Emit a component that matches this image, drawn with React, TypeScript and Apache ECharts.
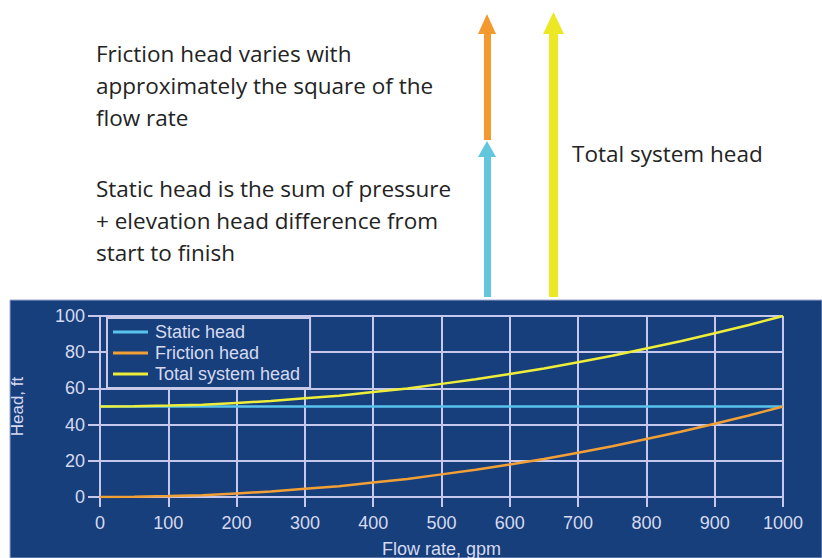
import React, { useEffect, useRef } from "react";
import * as echarts from "echarts";

const flowRates = [0, 50, 100, 150, 200, 250, 300, 350, 400, 450, 500, 550, 600, 650, 700, 750, 800, 850, 900, 950, 1000];
const staticHead = [50, 50, 50, 50, 50, 50, 50, 50, 50, 50, 50, 50, 50, 50, 50, 50, 50, 50, 50, 50, 50];
const frictionHead = [0, 0.2, 0.5, 1, 2, 3, 4.5, 6, 8, 10, 12.5, 15, 18, 21, 24.5, 28, 32, 36, 40.5, 45, 50];
const totalHead = [50, 50.2, 50.5, 51, 52, 53, 54.5, 56, 58, 60, 62.5, 65, 68, 71, 74.5, 78, 82, 86, 90.5, 95, 100];
const xTicks = [0, 100, 200, 300, 400, 500, 600, 700, 800, 900, 1000];
const yTicks = [0, 20, 40, 60, 80, 100];

const frictionNote = "Friction head varies with\napproximately the square of the\nflow rate";
const staticNote = "Static head is the sum of pressure\n+ elevation head difference from\nstart to finish";
const totalNote = "Total system head";

const PANEL = "#173f7c";
const GRIDC = "#c6c8ee";
const LABELC = "#d6daf0";
const AXFONT = "Liberation Sans, Arial";

export default function App() {
  const ref = useRef<HTMLDivElement>(null);
  useEffect(() => {
    if (!ref.current) return;
    document.body.style.margin = "0";
    document.body.style.overflow = "hidden";
    document.documentElement.style.overflow = "hidden";
    const chart = echarts.init(ref.current, null, { renderer: "svg", width: 822, height: 558 });
    const pair = (ys: number[]) => flowRates.map((x, i) => [x, ys[i]]);
    const noteStyle = { fontFamily: "Open Sans", fontSize: 22.5, fill: "#232323", lineHeight: 32 };
    chart.setOption({
      animation: false,
      backgroundColor: "#ffffff",
      graphic: [
        { type: "rect", z: -100, silent: true, shape: { x: 10, y: 300, width: 812, height: 258 }, style: { fill: PANEL, stroke: "#9ea6d0", lineWidth: 1 } },
        { type: "text", x: 96, y: 37, style: { ...noteStyle, text: frictionNote } },
        { type: "text", x: 96, y: 172, style: { ...noteStyle, text: staticNote } },
        { type: "text", x: 572, y: 137, style: { ...noteStyle, text: totalNote } },
        { type: "rect", shape: { x: 484, y: 152, width: 7, height: 145 }, style: { fill: "#62c6dc" } },
        { type: "polygon", shape: { points: [[478, 157], [496, 157], [487, 141]] }, style: { fill: "#62c6dc" } },
        { type: "rect", shape: { x: 484, y: 30, width: 7, height: 110 }, style: { fill: "#f29a2e" } },
        { type: "polygon", shape: { points: [[478, 34], [496, 34], [487, 14]] }, style: { fill: "#f29a2e" } },
        { type: "rect", shape: { x: 549, y: 30, width: 9, height: 267 }, style: { fill: "#ece824" } },
        { type: "polygon", shape: { points: [[543, 34], [564, 34], [553.5, 12]] }, style: { fill: "#ece824" } },
      ],
      grid: { left: 100, width: 683, top: 316, height: 181, outerBoundsMode: "none", containLabel: false },
      legend: {
        left: 107,
        top: 318,
        orient: "vertical",
        icon: "rect",
        itemWidth: 35,
        itemHeight: 3,
        itemGap: 3,
        padding: [5, 10, 5, 6],
        borderColor: "#c8cae8",
        borderWidth: 2,
        backgroundColor: PANEL,
        textStyle: { color: LABELC, fontSize: 18, fontFamily: AXFONT, padding: [0, 0, 0, 2] },
        data: ["Static head", "Friction head", "Total system head"],
      },
      xAxis: {
        type: "value",
        min: xTicks[0],
        max: xTicks[xTicks.length - 1],
        interval: 100,
        name: "Flow rate, gpm",
        nameLocation: "middle",
        nameGap: 43,
        nameTextStyle: { color: LABELC, fontSize: 18, fontFamily: AXFONT },
        axisLine: { show: false },
        axisTick: { show: true, length: 10, lineStyle: { color: GRIDC, width: 2 } },
        axisLabel: { color: LABELC, fontSize: 18, margin: 17, fontFamily: AXFONT, formatter: (v: number) => String(v) },
        splitLine: { show: true, lineStyle: { color: GRIDC, width: 2 } },
      },
      yAxis: {
        type: "value",
        min: yTicks[0],
        max: yTicks[yTicks.length - 1],
        interval: 20,
        name: "Head, ft",
        nameLocation: "middle",
        nameGap: 74,
        nameTextStyle: { color: LABELC, fontSize: 17, fontFamily: AXFONT },
        axisLine: { show: false },
        axisTick: { show: true, length: 12, lineStyle: { color: GRIDC, width: 2 } },
        axisLabel: { color: LABELC, fontSize: 18, margin: 15, fontFamily: AXFONT, formatter: (v: number) => String(v) },
        splitLine: { show: true, lineStyle: { color: GRIDC, width: 2 } },
      },
      series: [
        { name: "Static head", type: "line", data: pair(staticHead), symbol: "none", color: "#58c4ee", lineStyle: { width: 2.5, color: "#58c4ee" }, z: 3 },
        { name: "Friction head", type: "line", data: pair(frictionHead), symbol: "none", color: "#f2a036", lineStyle: { width: 2.5, color: "#f2a036" }, z: 4 },
        { name: "Total system head", type: "line", data: pair(totalHead), symbol: "none", color: "#eeee3a", lineStyle: { width: 2.5, color: "#eeee3a" }, z: 5 },
      ],
    });
    return () => chart.dispose();
  }, []);
  return <div ref={ref} style={{ width: 822, height: 558 }} />;
}
